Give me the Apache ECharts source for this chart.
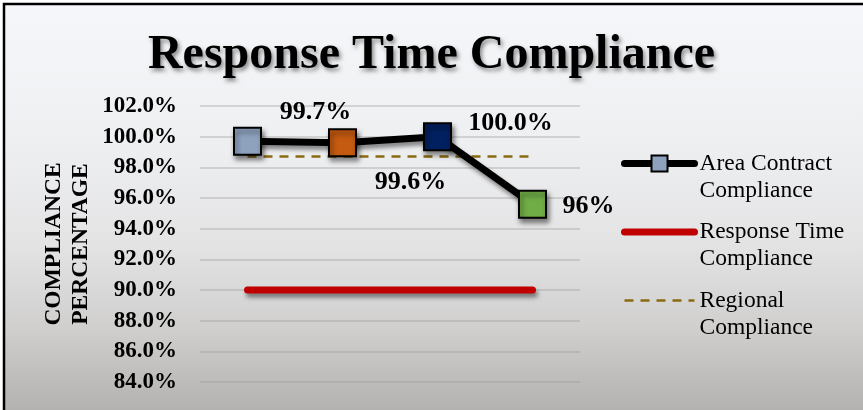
<!DOCTYPE html>
<html>
<head>
<meta charset="utf-8">
<script src="https://cdn.jsdelivr.net/npm/echarts@6/dist/echarts.min.js"></script>
<style>
html,body{margin:0;padding:0;background:#fff;}
#chart{width:863px;height:410px;}
</style>
</head>
<body>
<div id="chart"></div>
<script>
// ---- data ----
var categories = ['Area 1', 'Area 2', 'Area 3', 'Area 4'];
var areaCompliance = [99.7, 99.6, 100.0, 95.6];
var areaLabels = ['99.7%', '99.6%', '100.0%', '96%'];
var responseTimeCompliance = [90.0, 90.0, 90.0, 90.0];
var regionalCompliance = [98.7, 98.7, 98.7, 98.7];
var seriesNames = ['Area Contract\nCompliance', 'Response Time\nCompliance', 'Regional\nCompliance'];
var yTicks = { min: 84, max: 102, interval: 2 };

// ---- styles (kept separate from data) ----
var markerColors = ['#8EA2BE', '#C55A11', '#002060', '#70AD47'];
var labelOffsets = [[68, -29], [68, 39], [73, -13], [56, 2]];
var FONT = "'Liberation Serif', 'Times New Roman', serif";

var chart = echarts.init(document.getElementById('chart'), null, { renderer: 'canvas' });

var areaData = areaCompliance.map(function (v, i) {
  return {
    value: v,
    itemStyle: { color: markerColors[i] },
    label: { show: true, formatter: areaLabels[i], position: 'inside', offset: labelOffsets[i] }
  };
});

var option = {
  animation: false,
  graphic: [{
    type: 'rect',
    z: -10,
    silent: true,
    shape: { x: 4, y: 4, width: 900, height: 500 },
    style: {
      fill: {
        type: 'linear', x: 0, y: 0, x2: 0, y2: 410, global: true,
        colorStops: [
          { offset: 0, color: '#F5F7FA' },
          { offset: 0.35, color: '#EEEFF1' },
          { offset: 0.6, color: '#E3E3E4' },
          { offset: 0.8, color: '#D0CFCE' },
          { offset: 1, color: '#B4B2B0' }
        ]
      },
      stroke: '#000',
      lineWidth: 2.5
    }
  }],
  title: {
    text: 'Response Time Compliance',
    left: 'center',
    top: 27,
    textStyle: {
      fontFamily: FONT,
      fontWeight: 'bold',
      fontSize: 48,
      color: '#000',
      textShadowColor: 'rgba(0,0,0,0.45)',
      textShadowBlur: 4,
      textShadowOffsetX: 2,
      textShadowOffsetY: 3
    }
  },
  legend: {
    orient: 'vertical',
    left: 616,
    top: 118,
    itemWidth: 70,
    itemHeight: 20,
    itemGap: -12.5,
    selectedMode: false,
    formatter: function (name) { return '\n' + name; },
    textStyle: {
      fontFamily: FONT,
      fontSize: 23.5,
      color: '#000',
      lineHeight: 27
    },
    data: [
      { name: seriesNames[0], lineStyle: { width: 7, cap: 'round' } },
      { name: seriesNames[1], lineStyle: { width: 7, cap: 'round' },
        itemStyle: { color: 'rgba(0,0,0,0)', borderWidth: 0 } },
      { name: seriesNames[2], lineStyle: { width: 2.5 },
        itemStyle: { color: 'rgba(0,0,0,0)', borderWidth: 0 } }
    ]
  },
  grid: { left: 200, right: 283, top: 106, bottom: 28 },
  xAxis: {
    type: 'category',
    data: categories,
    boundaryGap: true,
    axisLine: { show: false },
    axisTick: { show: false },
    axisLabel: { show: false },
    splitLine: { show: false }
  },
  yAxis: {
    type: 'value',
    min: yTicks.min,
    max: yTicks.max,
    interval: yTicks.interval,
    name: 'COMPLIANCE\nPERCENTAGE',
    nameLocation: 'middle',
    nameRotate: 90,
    nameGap: 106,
    nameTextStyle: {
      fontFamily: FONT,
      fontWeight: 'bold',
      fontSize: 23.5,
      lineHeight: 27,
      color: '#000'
    },
    axisLine: { show: false },
    axisTick: { show: false },
    axisLabel: {
      margin: 23,
      fontFamily: FONT,
      fontWeight: 'bold',
      fontSize: 23,
      color: '#000',
      formatter: function (v) { return v.toFixed(1) + '%'; }
    },
    splitLine: { lineStyle: { color: 'rgba(150,150,150,0.45)', width: 1.5 } }
  },
  series: [
    {
      name: seriesNames[2],
      type: 'line',
      data: regionalCompliance,
      symbol: 'none',
      z: 1,
      lineStyle: { color: '#8C6A12', width: 2.5, type: [9, 7] },
      itemStyle: { color: '#8C6A12' }
    },
    {
      name: seriesNames[1],
      type: 'line',
      data: responseTimeCompliance,
      symbol: 'none',
      z: 2,
      lineStyle: {
        color: '#C00000', width: 7, cap: 'round',
        shadowColor: 'rgba(0,0,0,0.45)', shadowBlur: 4, shadowOffsetX: 2, shadowOffsetY: 4
      },
      itemStyle: { color: '#C00000' }
    },
    {
      name: seriesNames[0],
      type: 'line',
      data: areaData,
      symbol: 'rect',
      symbolSize: 27,
      z: 3,
      lineStyle: {
        color: '#000', width: 7, cap: 'round', join: 'round',
        shadowColor: 'rgba(0,0,0,0.45)', shadowBlur: 4, shadowOffsetX: 2, shadowOffsetY: 4
      },
      itemStyle: {
        color: markerColors[0],
        borderColor: '#000',
        borderWidth: 2,
        shadowColor: 'rgba(0,0,0,0.5)', shadowBlur: 5, shadowOffsetX: 2, shadowOffsetY: 4
      },
      label: {
        fontFamily: FONT,
        fontWeight: 'bold',
        fontSize: 26,
        color: '#000'
      }
    }
  ]
};

chart.setOption(option);
</script>
</body>
</html>
